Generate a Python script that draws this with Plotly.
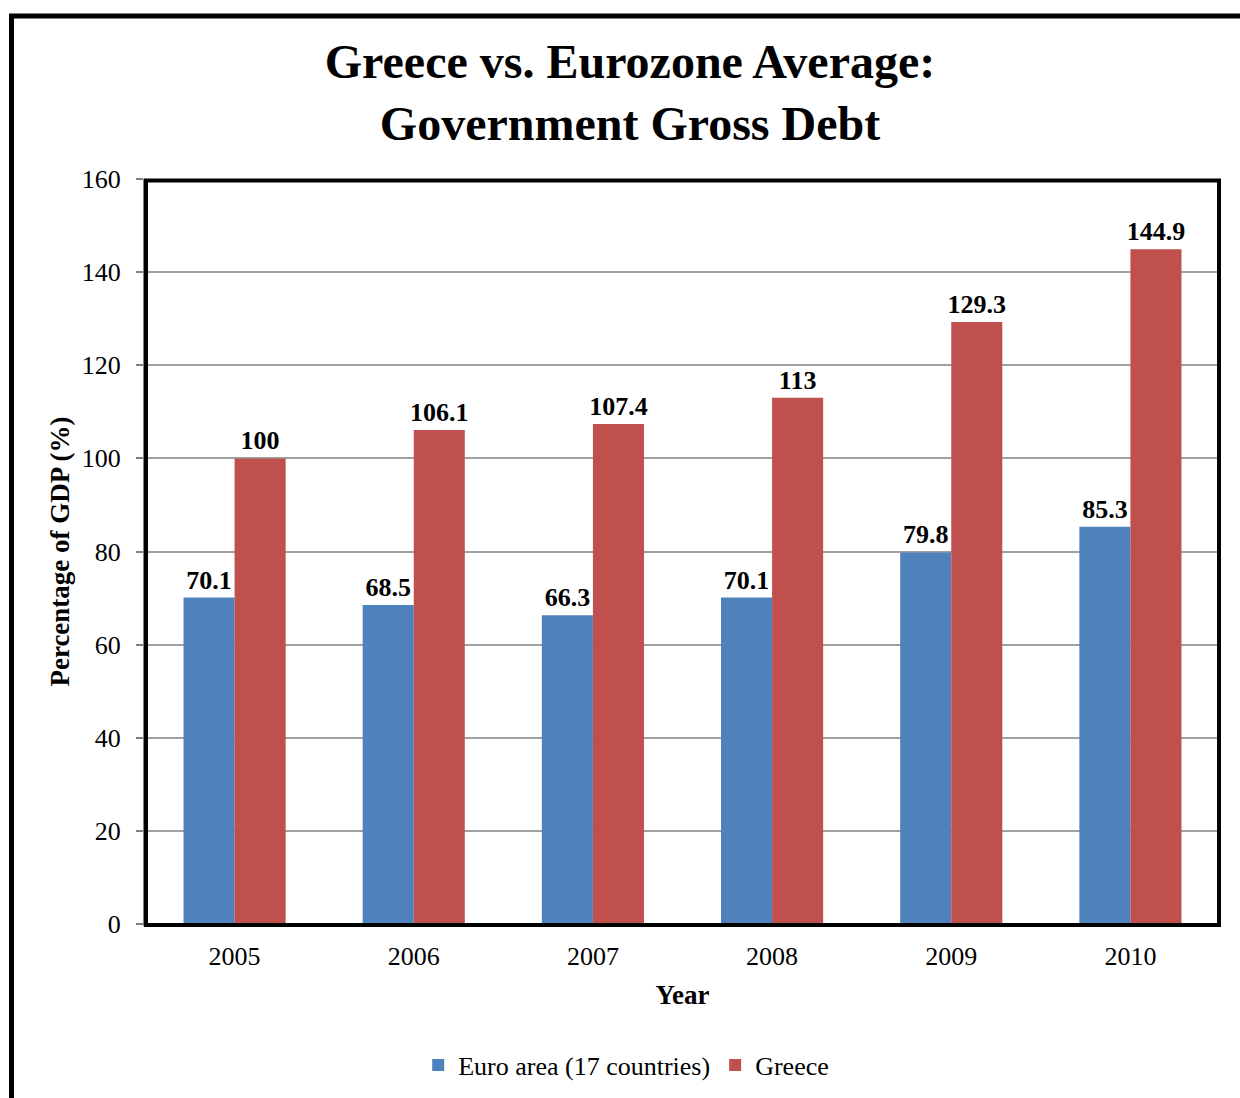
import plotly.graph_objects as go

# Government gross debt, percentage of GDP
years = ["2005", "2006", "2007", "2008", "2009", "2010"]
euro_area = [70.1, 68.5, 66.3, 70.1, 79.8, 85.3]
greece = [100, 106.1, 107.4, 113, 129.3, 144.9]
series_names = ["Euro area (17 countries)", "Greece"]
y_ticks = [0, 20, 40, 60, 80, 100, 120, 140, 160]

FONT = "Liberation Serif, Times New Roman, serif"
W, H = 1240, 1098
ML, MR, MT, MB = 145, 20, 179, 174
PW, PH = W - ML - MR, H - MT - MB


def px_x(p):
    return (p - ML) / PW


def px_y(p):
    return (H - MB - p) / PH


label_font = dict(family=FONT, size=26, color="black", weight="bold")

fig = go.Figure()
fig.add_trace(go.Bar(
    x=years, y=euro_area, name=series_names[0],
    marker=dict(color="#4F81BD", line=dict(width=0)),
    text=[f"{v:g}" for v in euro_area], textposition="outside",
    textfont=label_font, cliponaxis=False, constraintext="none",
))
fig.add_trace(go.Bar(
    x=years, y=greece, name=series_names[1],
    marker=dict(color="#C0504D", line=dict(width=0)),
    text=[f"{v:g}" for v in greece], textposition="outside",
    textfont=label_font, cliponaxis=False, constraintext="none",
))

fig.update_layout(
    width=W, height=H,
    margin=dict(l=ML, r=MR, t=MT, b=MB, autoexpand=False),
    paper_bgcolor="white", plot_bgcolor="white",
    barmode="group", bargap=0.43, bargroupgap=0,
    font=dict(family=FONT, size=26, color="black"),
    title=dict(
        text="<b>Greece vs. Eurozone Average:<br>Government Gross Debt</b>",
        x=630 / W, xanchor="center", xref="container",
        y=1 - 78 / H, yanchor="middle", yref="container",
        font=dict(family=FONT, size=48, color="black"),
    ),
    legend=dict(
        orientation="h", x=0.505, xref="container", xanchor="center",
        y=1 - 1065 / H, yref="container", yanchor="middle",
        font=dict(family=FONT, size=26, color="black"),
        itemwidth=30, traceorder="normal",
    ),
    showlegend=True,
)

fig.update_xaxes(
    title=dict(text="<b>Year</b>", font=dict(family=FONT, size=27), standoff=15),
    showline=True, linecolor="#808080", linewidth=2,
    ticks="", tickfont=dict(family=FONT, size=26), ticklabelstandoff=8,
    showgrid=False,
)
fig.update_yaxes(
    range=[0, 160], tickvals=y_ticks,
    title=dict(text="<b>Percentage of GDP (%)</b>", font=dict(family=FONT, size=27), standoff=4),
    showline=True, linecolor="#808080", linewidth=2,
    ticks="outside", ticklen=7, tickcolor="#808080", tickwidth=2,
    tickfont=dict(family=FONT, size=26), ticklabelstandoff=10,
    showgrid=True, gridcolor="#A0A0A0", gridwidth=1.5,
    zeroline=False,
)

# heavy frame around the plotting area
fig.add_shape(
    type="rect", xref="paper", yref="paper",
    x0=px_x(146), x1=px_x(1219), y0=px_y(925), y1=px_y(180.5),
    line=dict(color="black", width=4), layer="above",
)
# outer chart border (runs off the right and bottom edges)
fig.add_shape(
    type="rect", xref="paper", yref="paper",
    x0=px_x(11.5), x1=px_x(1270), y0=px_y(1130), y1=px_y(16),
    line=dict(color="black", width=5), layer="above",
)

fig.write_html("out.html")
